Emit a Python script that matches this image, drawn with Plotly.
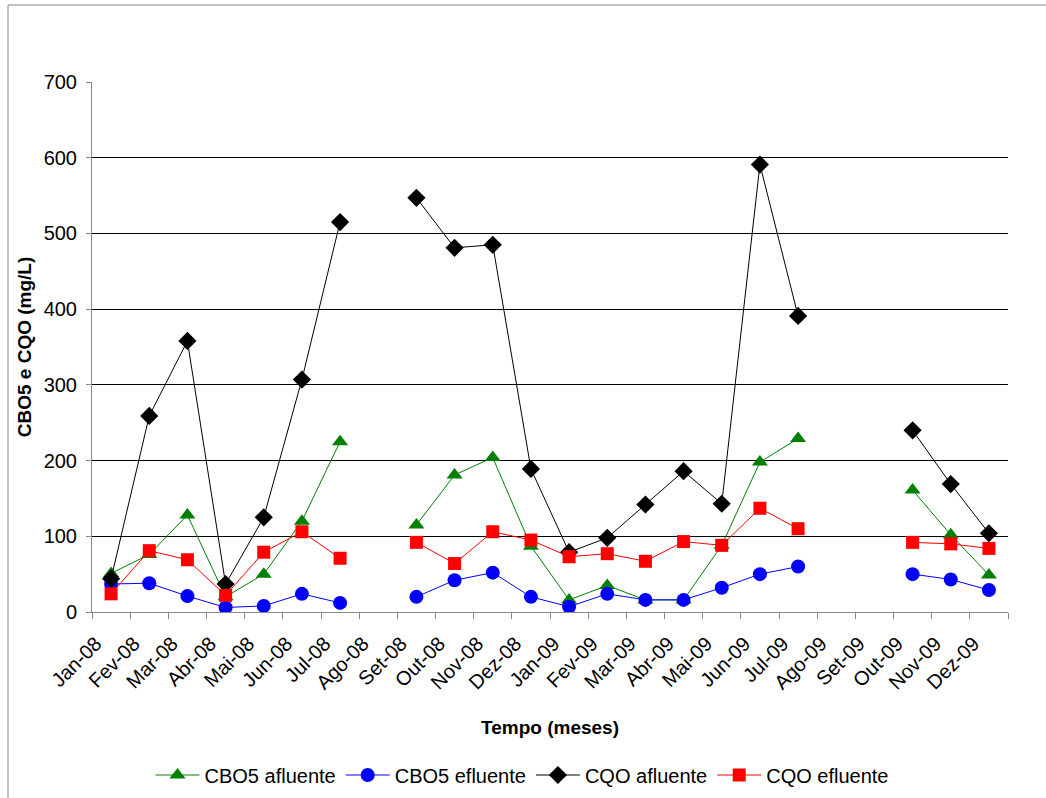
import plotly.graph_objects as go

months = ["Jan-08", "Fev-08", "Mar-08", "Abr-08", "Mai-08", "Jun-08", "Jul-08", "Ago-08",
          "Set-08", "Out-08", "Nov-08", "Dez-08", "Jan-09", "Fev-09", "Mar-09", "Abr-09",
          "Mai-09", "Jun-09", "Jul-09", "Ago-09", "Set-09", "Out-09", "Nov-09", "Dez-09"]

cbo5_afluente = [51, 76, 128, 20, 50, 120, 225, None,
                 115, 181, 204, 87, 16, 35, 16, 16,
                 88, 198, 229, None, None, 161, 102, 49]
cbo5_efluente = [37, 38, 21, 6, 8, 24, 12, None,
                 20, 42, 52, 20, 7, 24, 16, 16,
                 32, 50, 60, None, None, 50, 43, 29]
cqo_afluente = [44, 259, 358, 37, 125, 307, 515, None,
                547, 481, 485, 189, 79, 98, 142, 186,
                143, 591, 391, None, None, 240, 169, 104]
cqo_efluente = [24, 81, 69, 22, 79, 106, 71, None,
                92, 64, 106, 95, 73, 77, 67, 93,
                88, 137, 110, None, None, 92, 90, 84]

y_ticks = [0, 100, 200, 300, 400, 500, 600, 700]

FONT = "Liberation Sans, Arial, sans-serif"
idx = list(range(len(months)))

series = [
    ("CBO5 afluente", cbo5_afluente, "#008000", "triangle-up", 14),
    ("CBO5 efluente", cbo5_efluente, "#0000FF", "circle", 14),
    ("CQO afluente", cqo_afluente, "#000000", "diamond", 14),
    ("CQO efluente", cqo_efluente, "#FF0000", "square", 13),
]

fig = go.Figure()
for name, vals, color, sym, size in series:
    fig.add_trace(go.Scatter(
        x=idx, y=vals, name=name, mode="lines+markers",
        line=dict(color=color, width=1),
        marker=dict(symbol=sym, size=size, color=color),
        connectgaps=False,
    ))

# invisible helper trace for the label axis
fig.add_trace(go.Scatter(x=[0, len(months) - 1], y=[None, None], xaxis="x2",
                         showlegend=False, hoverinfo="skip", mode="markers"))

W, H = 1046, 798
L, R, T, B = 92, 1008, 82, 612
pw, ph = R - L, B - T

fig.update_layout(
    width=W, height=H,
    margin=dict(l=L, r=W - R, t=T, b=H - B),
    paper_bgcolor="white", plot_bgcolor="white",
    font=dict(family=FONT, size=20, color="#000000"),
    showlegend=True,
    legend=dict(orientation="h", xref="container", yref="container",
                x=522 / W, xanchor="center",
                y=1 - 775 / H, yanchor="middle",
                font=dict(size=20), itemwidth=44, tracegroupgap=0,
                bgcolor="rgba(0,0,0,0)"),
    xaxis=dict(
        range=[-0.5, len(months) - 0.5], tickmode="array",
        tickvals=[i - 0.5 for i in range(len(months) + 1)],
        showticklabels=False, ticks="outside", ticklen=6, tickcolor="#888888",
        showline=True, linecolor="#888888", linewidth=1, showgrid=False, zeroline=False,
        automargin=False,
    ),
    xaxis2=dict(
        overlaying="x", side="bottom",
        range=[-0.5, len(months) - 0.5], tickmode="array",
        tickvals=[i - 0.4 for i in idx], ticktext=months, tickangle=-45,
        ticks="outside", ticklen=11, tickcolor="rgba(0,0,0,0)",
        showline=False, showgrid=False, zeroline=False,
        tickfont=dict(size=20), automargin=False,
        title=dict(text="<b>Tempo (meses)</b>", font=dict(size=19), standoff=28),
    ),
    yaxis=dict(
        range=[0, 700], tickmode="array", tickvals=y_ticks,
        ticks="outside", ticklen=5, tickcolor="#888888", ticklabelstandoff=5,
        showline=True, linecolor="#888888", linewidth=1,
        showgrid=True, gridcolor="#000000", gridwidth=1, zeroline=False,
        tickfont=dict(size=20),
        title=dict(text="<b>CBO5 e CQO (mg/L)</b>", font=dict(size=19), standoff=6),
        automargin=False,
    ),
    shapes=[dict(type="rect", xref="paper", yref="paper",
                 x0=(8 - L) / pw, x1=(1052 - L) / pw,
                 y0=(B - 802) / ph, y1=(B - 5) / ph,
                 line=dict(color="#888888", width=1), fillcolor="rgba(0,0,0,0)",
                 layer="below")],
)

fig.write_html("out.html")
